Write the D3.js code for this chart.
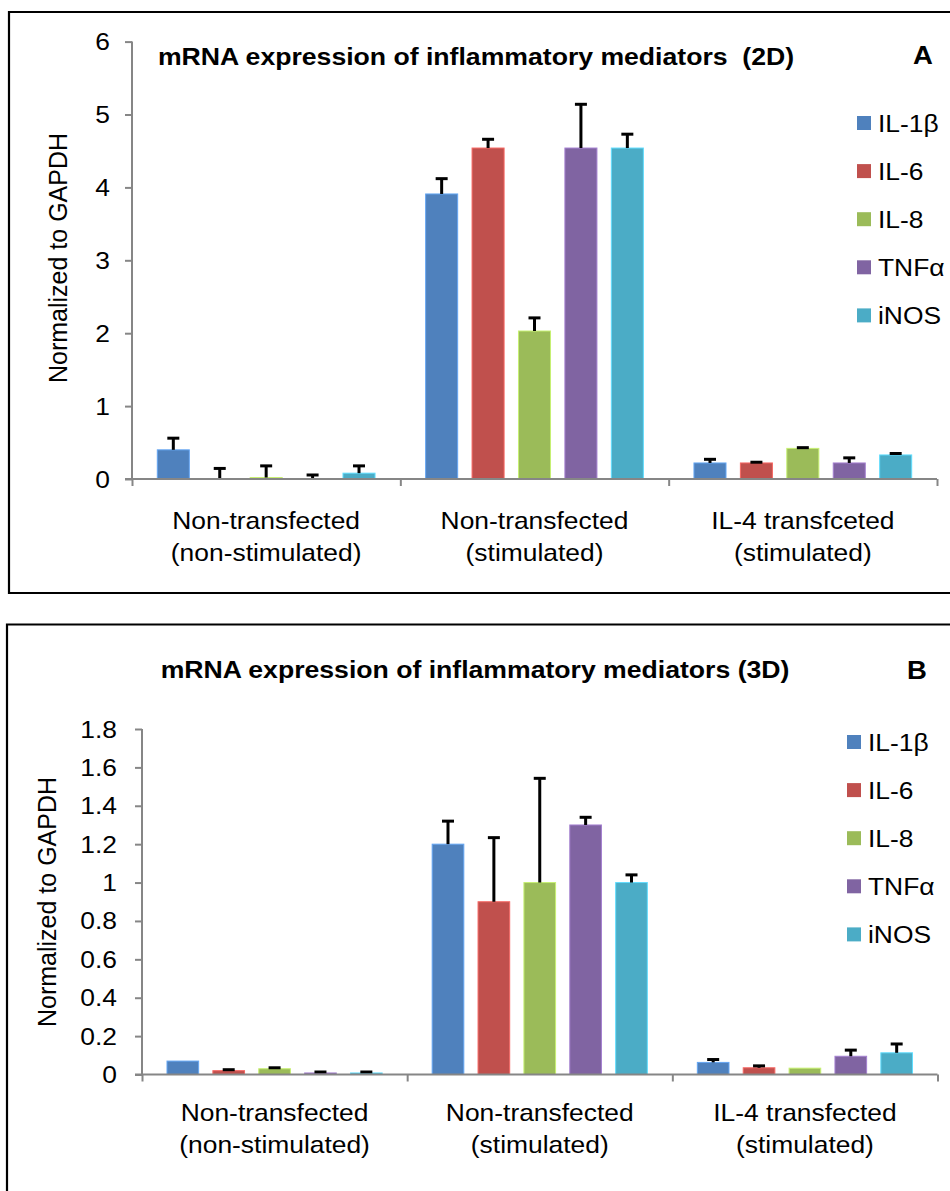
<!DOCTYPE html>
<html>
<head>
<meta charset="utf-8">
<script src="https://cdn.jsdelivr.net/npm/d3@7"></script>
<style>
  html, body { margin: 0; padding: 0; background: #fff; }
  svg { display: block; }
  text { font-family: Arial, "Liberation Sans", sans-serif; fill: #000; }
</style>
</head>
<body>
<svg id="fig" width="950" height="1191"></svg>
<script>
// Series (mediators) shared by both panels
const series = ["IL-1β", "IL-6", "IL-8", "TNFα", "iNOS"];
const seriesColors = ["#4F81BD", "#C0504D", "#9BBB59", "#8064A2", "#4BACC6"];

// Panel A: 2D culture
const categoriesA = [
  ["Non-transfected", "(non-stimulated)"],
  ["Non-transfected", "(stimulated)"],
  ["IL-4 transfceted", "(stimulated)"]
];
// rows = categories, columns = series
const valuesA = [
  [0.40, 0.00, 0.02, 0.005, 0.08],
  [3.91, 4.54, 2.03, 4.54, 4.54],
  [0.22, 0.22, 0.42, 0.22, 0.33]
];
const errorsA = [
  [0.16, 0.145, 0.16, 0.05, 0.10],
  [0.21, 0.12, 0.18, 0.60, 0.19],
  [0.05, 0.01, 0.01, 0.07, 0.02]
];
const ticksA = [0, 1, 2, 3, 4, 5, 6];

// Panel B: 3D culture
const categoriesB = [
  ["Non-transfected", "(non-stimulated)"],
  ["Non-transfected", "(stimulated)"],
  ["IL-4 transfected", "(stimulated)"]
];
const valuesB = [
  [0.07, 0.02, 0.03, 0.008, 0.008],
  [1.20, 0.90, 1.00, 1.30, 1.00],
  [0.063, 0.035, 0.033, 0.095, 0.113]
];
const errorsB = [
  [0, 0.005, 0.005, 0.005, 0.005],
  [0.12, 0.334, 0.543, 0.04, 0.04],
  [0.015, 0.01, 0, 0.032, 0.046]
];
const ticksB = [0, 0.2, 0.4, 0.6, 0.8, 1, 1.2, 1.4, 1.6, 1.8];

const titleA = "mRNA expression of inflammatory mediators  (2D)";
const titleB = "mRNA expression of inflammatory mediators (3D)";
const yTitle = "Normalized to GAPDH";

const svg = d3.select("#fig");
const SX = 1.1; // horizontal stretch applied to horizontal text

function hText(g, x, y, str, opts = {}) {
  const t = g.append("text")
    .attr("transform", `translate(${x},${y}) scale(${SX},1)`)
    .attr("text-anchor", opts.anchor || "start")
    .style("font-size", (opts.size || 24) + "px")
    .style("font-weight", opts.weight || "normal")
    .style("white-space", "pre")
    .text(str);
  return t;
}

function drawPanel(cfg) {
  const g = svg.append("g");

  // frame (open on the right side)
  g.append("path")
    .attr("d", cfg.frame)
    .attr("fill", "none")
    .attr("stroke", "#000")
    .attr("stroke-width", 2.2);

  const x0 = d3.scaleBand()
    .domain(d3.range(cfg.categories.length))
    .range([cfg.left, cfg.right])
    .paddingInner(0).paddingOuter(0);

  const x1 = d3.scaleBand()
    .domain(d3.range(series.length))
    .range([0, x0.bandwidth()])
    .paddingInner(0.31).paddingOuter(0.545);

  const y = d3.scaleLinear()
    .domain([0, cfg.ticks[cfg.ticks.length - 1]])
    .range([cfg.bottom, cfg.top]);

  // bars
  const groups = g.selectAll("g.cat")
    .data(cfg.values)
    .join("g")
    .attr("class", "cat")
    .attr("transform", (d, i) => `translate(${x0(i)},0)`);

  groups.selectAll("rect")
    .data(d => d.map((v, j) => ({ v, j })))
    .join("rect")
    .attr("x", d => x1(d.j))
    .attr("width", x1.bandwidth())
    .attr("y", d => y(d.v))
    .attr("height", d => y(0) - y(d.v))
    .attr("fill", d => seriesColors[d.j])
    .attr("stroke", d => d3.color(seriesColors[d.j]).brighter(0.7))
    .attr("stroke-width", d => d.v > 0.004 ? 1 : 0);

  // error bars (upper only)
  groups.each(function (row, i) {
    const eg = d3.select(this);
    row.forEach((v, j) => {
      const e = cfg.errors[i][j];
      if (!e) return;
      const cx = x1(j) + x1.bandwidth() / 2;
      const yTop = y(v + e);
      const yBase = y(v);
      eg.append("line")
        .attr("x1", cx).attr("x2", cx)
        .attr("y1", yBase).attr("y2", yTop)
        .attr("stroke", "#000").attr("stroke-width", 3);
      eg.append("line")
        .attr("x1", cx - 6).attr("x2", cx + 6)
        .attr("y1", yTop).attr("y2", yTop)
        .attr("stroke", "#000").attr("stroke-width", 3);
    });
  });

  // y axis
  const yAxis = d3.axisLeft(y)
    .tickValues(cfg.ticks)
    .tickSize(7)
    .tickFormat(() => "");
  const ya = g.append("g")
    .attr("transform", `translate(${cfg.left},0)`)
    .call(yAxis);
  ya.selectAll("path, line").attr("stroke", "#868686").attr("stroke-width", 2);
  ya.select("path").attr("d", `M0,${cfg.top}V${cfg.bottom}`);

  cfg.ticks.forEach(t => {
    hText(g, cfg.tickRight, y(t) + 8.5, String(+t.toFixed(1)), { anchor: "end", size: 24 });
  });

  // x axis with boundary ticks
  const boundaries = d3.range(cfg.categories.length + 1)
    .map(i => cfg.left + i * x0.bandwidth());
  const xb = d3.scaleLinear().domain([cfg.left, cfg.right]).range([cfg.left, cfg.right]);
  const xa = g.append("g")
    .attr("transform", `translate(0,${cfg.bottom})`)
    .call(d3.axisBottom(xb).tickValues(boundaries).tickSize(7).tickFormat(() => ""));
  xa.selectAll("path, line").attr("stroke", "#868686").attr("stroke-width", 2);
  xa.select("path").attr("d", `M${cfg.left - 7},0H${cfg.right}`);

  // category labels
  cfg.categories.forEach((lines, i) => {
    const cx = x0(i) + x0.bandwidth() / 2;
    lines.forEach((ln, k) => {
      hText(g, cx, cfg.catY + k * 32, ln, { anchor: "middle", size: 24 });
    });
  });

  // y-axis title
  g.append("text")
    .attr("transform", `translate(${cfg.yTitleX},${cfg.yTitleY}) rotate(-90)`)
    .attr("text-anchor", "middle")
    .style("font-size", "25px")
    .text(yTitle);

  // chart title
  hText(g, cfg.titleX, cfg.titleY, cfg.title, { anchor: "middle", size: 24.2, weight: "bold" });

  // panel letter
  hText(g, cfg.letterX, cfg.letterY, cfg.letter, { anchor: "middle", size: 25, weight: "bold" });

  // legend
  series.forEach((s, j) => {
    const ly = cfg.legendY + j * 48.1;
    g.append("rect")
      .attr("x", cfg.legendX).attr("y", ly - 7)
      .attr("width", 14).attr("height", 14)
      .attr("fill", seriesColors[j]);
    hText(g, cfg.legendX + 21, ly + 8.5, s, { size: 24 });
  });
}

drawPanel({
  frame: "M960,12H9V593H960",
  categories: categoriesA, values: valuesA, errors: errorsA, ticks: ticksA,
  left: 132, right: 937, top: 41.6, bottom: 479,
  tickRight: 110, catY: 529,
  yTitleX: 67, yTitleY: 258,
  title: titleA, titleX: 476, titleY: 65,
  letter: "A", letterX: 923, letterY: 64,
  legendX: 857, legendY: 123
});

drawPanel({
  frame: "M960,624.5H7V1200",
  categories: categoriesB, values: valuesB, errors: errorsB, ticks: ticksB,
  left: 142, right: 937.5, top: 729, bottom: 1074.5,
  tickRight: 117, catY: 1121,
  yTitleX: 56, yTitleY: 902,
  title: titleB, titleX: 475, titleY: 678,
  letter: "B", letterX: 917, letterY: 679,
  legendX: 847, legendY: 742
});
</script>
</body>
</html>
